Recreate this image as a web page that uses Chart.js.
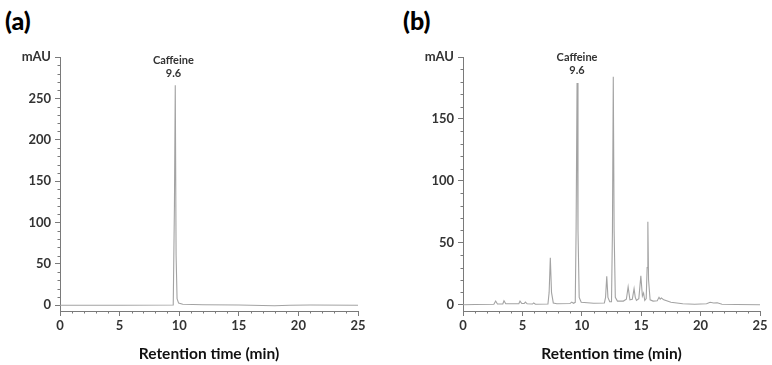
<!DOCTYPE html>
<html>
<head>
<meta charset="utf-8">
<script src="https://cdn.jsdelivr.net/npm/chart.js@4.4.0/dist/chart.umd.min.js"></script>
<style>
  html, body { margin: 0; padding: 0; background: #fff; }
  #wrap { position: relative; width: 772px; height: 365px; overflow: hidden; font-family: Lato, "Open Sans", sans-serif; }
  .panel { position: absolute; top: 0; }
  .tag { position: absolute; font-weight: 900; font-size: 25px; color: #000; line-height: 1; }
</style>
</head>
<body>
<div id="wrap">
  <div class="tag" style="left:5px; top:8px;">(a)</div>
  <div class="tag" style="left:403px; top:8px;">(b)</div>
  <canvas id="ca" class="panel" width="386" height="365" style="left:0px;"></canvas>
  <canvas id="cb" class="panel" width="386" height="365" style="left:386px;"></canvas>
</div>
<script>
// ---- Data ----
const xTicks = [0, 5, 10, 15, 20, 25];
const yTicksA = [0, 50, 100, 150, 200, 250, 300];
const yTicksB = [0, 50, 100, 150, 200];
const xTitle = 'Retention time (min)';
const yUnit = 'mAU';
const peakLabel = ['Caffeine', '9.6'];
const peakTime = 9.6;

// Panel (a): caffeine standard
const timeA   = [0, 5, 9.5, 9.6, 9.67, 9.74, 9.82, 9.95, 10.3, 12, 15, 18, 19.3, 21, 25];
const signalA = [0, 0, 0.2, 120, 266, 60, 8, 2.5, 1.2, 0.6, 0.3, -0.6, 0, 0.2, 0];

// Panel (b): sample
const timeB = [0, 1, 2.6, 2.75, 2.9, 3.35, 3.45, 3.6, 4.7, 4.8, 4.95, 5.15, 5.25, 5.4, 5.85, 5.95, 6.1,
  7.15, 7.25, 7.35, 7.45, 7.6, 7.9, 9.0, 9.15, 9.3, 9.45, 9.52, 9.6, 9.68, 9.78, 9.95, 11, 11.9, 12.0, 12.1, 12.2, 12.35,
  12.5, 12.58, 12.65, 12.72, 12.82, 13.0, 13.5, 13.75, 13.9, 14.05, 14.25, 14.4, 14.5, 14.6, 14.8, 14.97, 15.1, 15.2,
  15.3, 15.42, 15.5, 15.56, 15.62, 15.75, 16.0, 16.35, 16.5, 16.6, 16.7, 16.9, 17.5, 18.5, 19.5, 20.5, 20.8, 21.1,
  21.4, 21.8, 23, 25];
const signalB = [0, 0.3, 0.4, 3, 0.6, 0.6, 3.2, 0.8, 0.8, 3, 1, 1, 2.2, 0.8, 0.6, 1.5, 0.5,
  0.6, 10, 38, 10, 1.5, 0.8, 1, 2.2, 1.2, 2, 60, 179, 60, 6, 2, 1.2, 1.5, 6, 23, 6, 2.5,
  2.5, 60, 184, 60, 6, 3, 3, 4.5, 14.5, 4, 4.5, 13, 6, 3.5, 5, 23.5, 7, 9.5,
  3.5, 5, 30, 67, 20, 4, 3, 3.2, 6, 4.5, 5.5, 4, 2, 0.8, 0.4, 0.8, 2, 1.4,
  1.6, 0.5, 0.2, 0];

// ---- helpers ----
const axisColor = '#7a7a7a';
const tickFont = { family: 'Lato, "Open Sans", sans-serif', size: 13, weight: 'bold' };

const minorTicks = {
  id: 'minorTicks',
  afterDraw(chart, args, opts) {
    const { ctx, chartArea } = chart;
    const xs = chart.scales.x, ys = chart.scales.y;
    ctx.save();
    ctx.strokeStyle = axisColor;
    ctx.lineWidth = 1;
    ctx.beginPath();
    for (let v = xs.min; v <= xs.max; v += opts.xStep) {
      if (v % 5 === 0) continue;
      const px = Math.round(xs.getPixelForValue(v)) + 0.5;
      ctx.moveTo(px, chartArea.bottom);
      ctx.lineTo(px, chartArea.bottom + 2.5);
    }
    for (let v = 0; v <= ys.max; v += opts.yStep) {
      if (v % 50 === 0) continue;
      const py = Math.round(ys.getPixelForValue(v)) + 0.5;
      ctx.moveTo(chartArea.left, py);
      ctx.lineTo(chartArea.left - 2.5, py);
    }
    ctx.stroke();
    ctx.restore();
  }
};

const peakText = {
  id: 'peakText',
  afterDatasetsDraw(chart, args, opts) {
    const { ctx, chartArea } = chart;
    const px = chart.scales.x.getPixelForValue(peakTime);
    ctx.save();
    ctx.fillStyle = '#333';
    ctx.font = 'bold 11px Lato, "Open Sans", sans-serif';
    ctx.textAlign = 'center';
    ctx.textBaseline = 'middle';
    ctx.fillText(peakLabel[0], px + opts.dx, chartArea.top + opts.dy);
    ctx.fillText(peakLabel[1], px + opts.dx, chartArea.top + opts.dy + 13.5);
    ctx.restore();
  }
};

function makeChart(id, times, signal, yTicks, yMin, leftW, rightPad, labelOff) {
  const yMax = yTicks[yTicks.length - 1];
  return new Chart(document.getElementById(id), {
    type: 'line',
    data: {
      datasets: [{
        data: times.map((t, i) => ({ x: t, y: signal[i] })),
        borderColor: '#a3a3a3',
        borderWidth: 1.1,
        pointRadius: 0,
        tension: 0,
        fill: false
      }]
    },
    options: {
      responsive: false,
      animation: false,
      events: [],
      layout: { padding: { top: 57, right: rightPad, bottom: 0, left: 0 } },
      plugins: {
        legend: { display: false },
        tooltip: { enabled: false },
        minorTicks: { xStep: 1, yStep: 10 },
        peakText: labelOff
      },
      scales: {
        x: {
          type: 'linear',
          min: 0, max: 25,
          afterBuildTicks: s => { s.ticks = xTicks.map(v => ({ value: v })); },
          afterFit: s => { s.height = 54; },
          grid: { drawOnChartArea: false, tickLength: 5, color: axisColor },
          border: { color: axisColor, width: 1 },
          ticks: { font: tickFont, color: '#333', padding: 2, maxRotation: 0 },
          title: {
            display: true, text: xTitle, color: '#111',
            font: { family: 'Lato, "Open Sans", sans-serif', size: 15.5, weight: 'bold' },
            padding: { top: 0, bottom: 2 }
          }
        },
        y: {
          type: 'linear',
          min: yMin, max: yMax,
          afterBuildTicks: s => { s.ticks = yTicks.map(v => ({ value: v })); },
          afterFit: s => { s.width = leftW; },
          grid: { drawOnChartArea: false, tickLength: 5, color: axisColor },
          border: { color: axisColor, width: 1 },
          ticks: {
            font: tickFont, color: '#333', padding: 4,
            callback: v => (v === yMax ? yUnit : String(v))
          }
        }
      }
    },
    plugins: [minorTicks, peakText]
  });
}

makeChart('ca', timeA, signalA, yTicksA, -7, 60, 28, { dx: -1, dy: 3 });
makeChart('cb', timeB, signalB, yTicksB, -5, 77, 12, { dx: 0, dy: 0 });
</script>
</body>
</html>
